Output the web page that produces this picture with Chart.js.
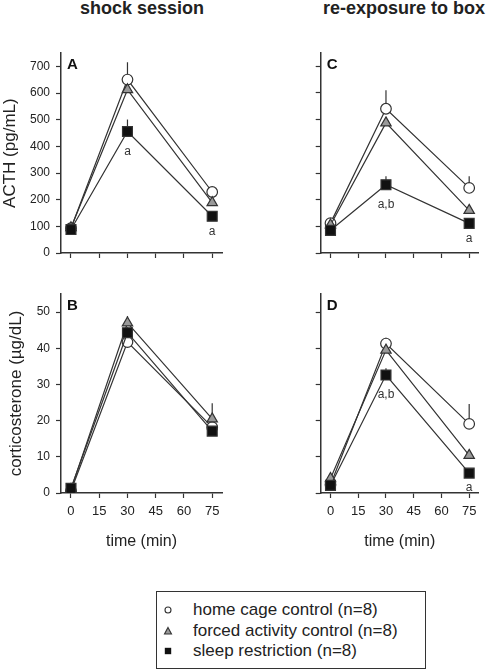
<!DOCTYPE html>
<html>
<head>
<meta charset="utf-8">
<title>ACTH and corticosterone</title>
<script src="https://cdn.jsdelivr.net/npm/chart.js@4.4.1/dist/chart.umd.min.js"></script>
<style>
  html, body { margin: 0; padding: 0; background: #fff; }
  body { font-family: "Liberation Sans", Arial, sans-serif; color: #222; }
  #figure { position: relative; width: 487px; height: 671px; overflow: hidden; }
  #figure canvas { position: absolute; }
  .col-title { position: absolute; top: -2px; font-size: 18px; font-weight: bold; line-height: 20px; white-space: nowrap; transform: translateX(-50%); }
  #legend { position: absolute; left: 156px; top: 591px; width: 270px; height: 78px; border: 1.5px solid #333; box-sizing: border-box; padding-top: 8px; font-size: 17px; }
  .legend-row { position: relative; height: 20.5px; line-height: 20.5px; padding-left: 36px; white-space: nowrap; }
  .legend-row svg { position: absolute; left: 6px; top: 5px; }
</style>
</head>
<body>
<div id="figure">
  <div class="col-title" style="left: 142px">shock session</div>
  <div class="col-title" style="left: 404px">re-exposure to box</div>
  <canvas id="panel-a" width="240" height="240" style="left: 0; top: 40px"></canvas>
  <canvas id="panel-c" width="237" height="240" style="left: 250px; top: 40px"></canvas>
  <canvas id="panel-b" width="240" height="280" style="left: 0; top: 280px"></canvas>
  <canvas id="panel-d" width="237" height="280" style="left: 250px; top: 280px"></canvas>
  <div id="legend"></div>
</div>
<script>
// DATA
const timesMin = [0, 30, 75]
const timeTicks = [0, 15, 30, 45, 60, 75]
const acthTicks = [0, 100, 200, 300, 400, 500, 600, 700]
const cortTicks = [0, 10, 20, 30, 40, 50]
const groupNames = ["home cage control (n=8)", "forced activity control (n=8)", "sleep restriction (n=8)"]

// ACTH (pg/mL) - shock session
const acthShockHome = [93, 651, 229]
const acthShockForced = [95, 613, 189]
const acthShockSleep = [88, 456, 138]
const acthShockHomeSem = [10, 65, 15]
const acthShockForcedSem = [10, 20, 12]
const acthShockSleepSem = [8, 45, 12]

// ACTH (pg/mL) - re-exposure to box
const acthBoxHome = [112, 541, 244]
const acthBoxForced = [105, 488, 160]
const acthBoxSleep = [85, 256, 111]
const acthBoxHomeSem = [10, 69, 44]
const acthBoxForcedSem = [10, 20, 12]
const acthBoxSleepSem = [8, 32, 12]

// corticosterone (ug/dL) - shock session
const cortShockHome = [0.6, 41.7, 18.2]
const cortShockForced = [1.0, 47.0, 20.5]
const cortShockSleep = [1.3, 44.3, 17.1]
const cortShockHomeSem = [0.5, 1.5, 1.5]
const cortShockForcedSem = [0.5, 1.9, 4.3]
const cortShockSleepSem = [0.5, 1.5, 1.0]

// corticosterone (ug/dL) - re-exposure to box
const cortBoxHome = [2.3, 41.3, 19.1]
const cortBoxForced = [4.0, 39.5, 10.4]
const cortBoxSleep = [2.1, 32.6, 5.5]
const cortBoxHomeSem = [0.5, 1.6, 5.5]
const cortBoxForcedSem = [0.5, 1.5, 1.0]
const cortBoxSleepSem = [0.5, 1.9, 1.0]

// significance marks under the sleep restriction points
const acthShockMarks = ["", "a", "a"]
const acthBoxMarks = ["", "a,b", "a"]
const cortShockMarks = ["", "", ""]
const cortBoxMarks = ["", "a,b", "a"]

Chart.defaults.font.family = "'Liberation Sans', Arial, sans-serif"
Chart.defaults.color = "#222"

const ink = "#333"

const groupStyles = [
  { pointStyle: "circle", pointRadius: 5.3, pointBackgroundColor: "#fff", order: 3 },
  { pointStyle: "triangle", pointRadius: 6, pointBackgroundColor: "#999", order: 2 },
  { pointStyle: "rect", pointRadius: 7, pointBackgroundColor: "#111", order: 1 },
]

// one-sided error bars, drawn under the markers
const errorBars = {
  id: "errorBars",
  beforeDatasetsDraw(chart) {
    const ctx = chart.ctx
    const yScale = chart.scales.y
    chart.data.datasets.forEach((ds, i) => {
      const meta = chart.getDatasetMeta(i)
      meta.data.forEach((pt, j) => {
        const top = yScale.getPixelForValue(ds.data[j].y + ds.sem[j])
        ctx.save()
        ctx.strokeStyle = ink
        ctx.lineWidth = 1.2
        ctx.beginPath()
        ctx.moveTo(pt.x, pt.y)
        ctx.lineTo(pt.x, top)
        ctx.stroke()
        ctx.restore()
      })
    })
  },
}

const sigMarks = {
  id: "sigMarks",
  afterDatasetsDraw(chart, args, opts) {
    const ctx = chart.ctx
    const meta = chart.getDatasetMeta(2)
    ctx.save()
    ctx.fillStyle = ink
    ctx.font = "12px 'Liberation Sans', Arial, sans-serif"
    ctx.textAlign = "center"
    ctx.textBaseline = "middle"
    opts.labels.forEach((text, j) => {
      if (!text) return
      const pt = meta.data[j]
      const gap = j === timesMin.length - 1 ? 15 : 20
      ctx.fillText(text, pt.x, pt.y + gap)
    })
    ctx.restore()
  },
}

const panelLetter = {
  id: "panelLetter",
  afterDraw(chart, args, opts) {
    const ctx = chart.ctx
    const area = chart.chartArea
    ctx.save()
    ctx.fillStyle = "#111"
    ctx.font = "bold 15px 'Liberation Sans', Arial, sans-serif"
    ctx.textBaseline = "middle"
    ctx.fillText(opts.text, area.left + 6, area.top + 12)
    ctx.restore()
  },
}

function drawPanel(canvasId, p) {
  const datasets = p.series.map((values, i) => ({
    label: groupNames[i],
    data: values.map((v, j) => ({ x: timesMin[j], y: v })),
    sem: p.sem[i],
    borderColor: ink,
    borderWidth: 1.2,
    pointBorderColor: ink,
    pointBorderWidth: 1.2,
    fill: false,
    tension: 0,
    ...groupStyles[i],
  }))

  return new Chart(document.getElementById(canvasId), {
    type: "line",
    data: { datasets },
    options: {
      responsive: false,
      animation: false,
      layout: { padding: { left: 0, top: p.padTop, right: p.padRight, bottom: 0 } },
      scales: {
        x: {
          type: "linear",
          min: -5.3,
          max: 80.2,
          afterFit(scale) {
            scale.height = p.xHeight
          },
          afterBuildTicks(scale) {
            scale.ticks = timeTicks.map((v) => ({ value: v }))
          },
          border: { color: ink, width: 1.5 },
          grid: { drawOnChartArea: false, tickLength: 5, tickColor: ink, tickWidth: 1.2 },
          ticks: { display: p.showX, autoSkip: false, maxRotation: 0, padding: 6, font: { size: 13 } },
          title: {
            display: p.showX,
            text: "time (min)",
            font: { size: 16 },
            padding: { top: 0, bottom: 8.5 },
          },
        },
        y: {
          min: 0,
          max: p.yMax,
          afterFit(scale) {
            scale.width = p.yWidth
          },
          afterBuildTicks(scale) {
            scale.ticks = p.yTicks.map((v) => ({ value: v }))
          },
          border: { color: ink, width: 1.5 },
          grid: { drawOnChartArea: false, tickLength: 5, tickColor: ink, tickWidth: 1.2 },
          ticks: { display: !!p.yTitle, padding: 6, font: { size: 12 } },
          title: {
            display: !!p.yTitle,
            text: p.yTitle || "",
            font: { size: 17 },
            padding: { top: p.yTitlePad || 0, bottom: 0 },
          },
        },
      },
      plugins: {
        legend: { display: false },
        tooltip: { enabled: false },
        sigMarks: { labels: p.marks },
        panelLetter: { text: p.letter },
      },
    },
    plugins: [errorBars, sigMarks, panelLetter],
  })
}

// Panel A - ACTH, shock session
drawPanel("panel-a", {
  letter: "A",
  series: [acthShockHome, acthShockForced, acthShockSleep],
  sem: [acthShockHomeSem, acthShockForcedSem, acthShockSleepSem],
  marks: acthShockMarks,
  yTicks: acthTicks,
  yMax: 750,
  yTitle: "ACTH (pg/mL)",
  yWidth: 61,
  xHeight: 27,
  padTop: 13,
  padRight: 18,
  showX: false,
})

// Panel C - ACTH, re-exposure
drawPanel("panel-c", {
  letter: "C",
  series: [acthBoxHome, acthBoxForced, acthBoxSleep],
  sem: [acthBoxHomeSem, acthBoxForcedSem, acthBoxSleepSem],
  marks: acthBoxMarks,
  yTicks: acthTicks,
  yMax: 750,
  yWidth: 70.7,
  xHeight: 27,
  padTop: 13,
  padRight: 4,
  showX: false,
})

// Panel B - corticosterone, shock session
drawPanel("panel-b", {
  letter: "B",
  series: [cortShockHome, cortShockForced, cortShockSleep],
  sem: [cortShockHomeSem, cortShockForcedSem, cortShockSleepSem],
  marks: cortShockMarks,
  yTicks: cortTicks,
  yMax: 55,
  yTitle: "corticosterone (\u00b5g/dL)",
  yTitlePad: 6,
  yWidth: 61,
  xHeight: 67,
  padTop: 14,
  padRight: 18,
  showX: true,
})

// Panel D - corticosterone, re-exposure
drawPanel("panel-d", {
  letter: "D",
  series: [cortBoxHome, cortBoxForced, cortBoxSleep],
  sem: [cortBoxHomeSem, cortBoxForcedSem, cortBoxSleepSem],
  marks: cortBoxMarks,
  yTicks: cortTicks,
  yMax: 55,
  yWidth: 70.7,
  xHeight: 67,
  padTop: 14,
  padRight: 4,
  showX: true,
})

// LEGEND
const legendMarks = [
  '<svg width="10" height="10"><circle cx="5" cy="5" r="3" fill="#fff" stroke="#333" stroke-width="1.1"/></svg>',
  '<svg width="10" height="10"><polygon points="5,1.5 8.5,8 1.5,8" fill="#999" stroke="#333" stroke-width="1.1"/></svg>',
  '<svg width="10" height="10"><rect x="1.8" y="1.8" width="6.4" height="6.4" fill="#111"/></svg>',
]
document.getElementById("legend").innerHTML = groupNames
  .map((name, i) => `<div class="legend-row">${legendMarks[i]}${name}</div>`)
  .join("")
</script>
</body>
</html>
